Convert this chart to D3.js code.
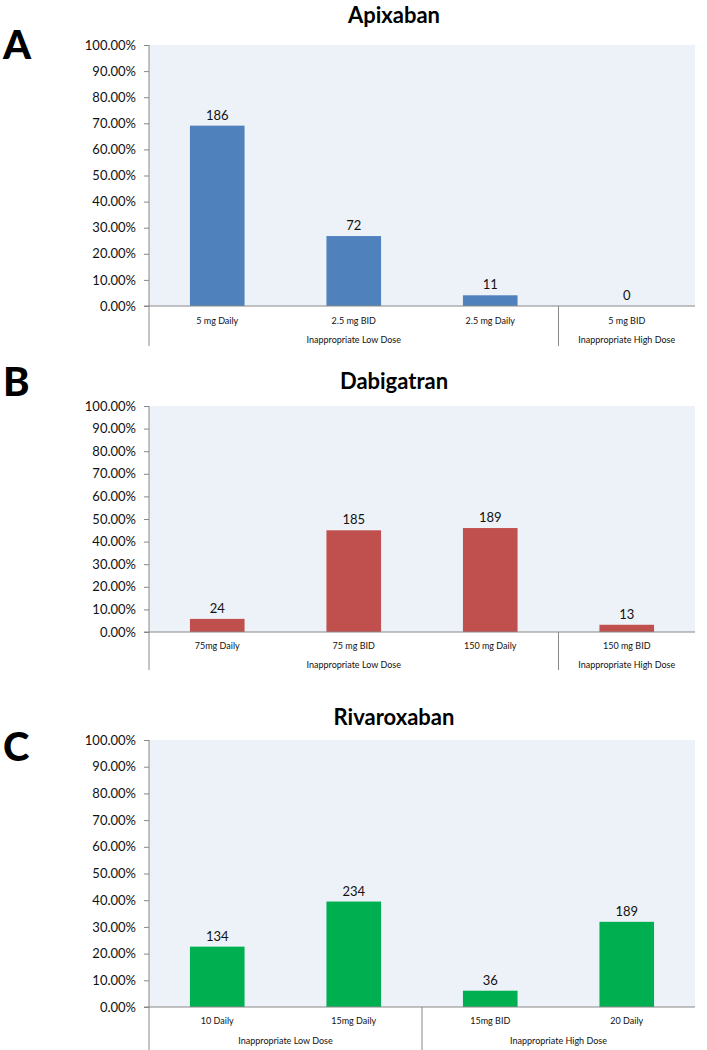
<!DOCTYPE html>
<html><head><meta charset="utf-8">
<script src="https://cdn.jsdelivr.net/npm/d3@7"></script>
<style>body{margin:0;background:#fff}svg{display:block}</style>
</head><body>
<svg id="c" width="707" height="1050"></svg>
<script>
const yTicks = [0,10,20,30,40,50,60,70,80,90,100];

const apixCats = ["5 mg Daily","2.5 mg BID","2.5 mg Daily","5 mg BID"];
const apixGroups = ["Inappropriate Low Dose","Inappropriate Low Dose","Inappropriate Low Dose","Inappropriate High Dose"];
const apixPct = [69.1, 26.8, 4.1, 0];
const apixN = [186, 72, 11, 0];

const dabiCats = ["75mg Daily","75 mg BID","150 mg Daily","150 mg BID"];
const dabiGroups = ["Inappropriate Low Dose","Inappropriate Low Dose","Inappropriate Low Dose","Inappropriate High Dose"];
const dabiPct = [5.8, 45.0, 46.0, 3.2];
const dabiN = [24, 185, 189, 13];

const rivaCats = ["10 Daily","15mg Daily","15mg BID","20 Daily"];
const rivaGroups = ["Inappropriate Low Dose","Inappropriate Low Dose","Inappropriate High Dose","Inappropriate High Dose"];
const rivaPct = [22.6, 39.5, 6.1, 31.9];
const rivaN = [134, 234, 36, 189];

const svg = d3.select("#c");
const FONT = "Lato, 'Open Sans', sans-serif";

function panel(o){
  const L = 149, R = 695;
  const g = svg.append("g");
  const x = d3.scaleBand().domain(d3.range(o.cats.length)).range([L,R]).paddingInner(0.6).paddingOuter(0.3);
  const xb = d3.scaleBand().domain(d3.range(o.cats.length)).range([L,R]);
  const y = d3.scaleLinear().domain([0,100]).range([o.bottom,o.top]);

  g.append("rect").attr("x",L).attr("y",o.top).attr("width",R-L).attr("height",o.bottom-o.top).attr("fill","#EDF1F8");

  // title & letter
  g.append("text").attr("x",394).attr("y",o.titleY).attr("text-anchor","middle").attr("dominant-baseline","central")
    .attr("font-family",FONT).attr("font-weight","bold").attr("font-size",22).text(o.title);
  g.append("text").attr("x",3).attr("y",o.letterY).attr("dominant-baseline","central")
    .attr("font-family",FONT).attr("font-weight","900").attr("font-size",40).text(o.letter);

  // bars
  g.selectAll(".bar").data(o.pct).join("rect")
    .attr("x",(d,i)=>x(i)).attr("width",x.bandwidth())
    .attr("y",d=>y(d)).attr("height",d=>o.bottom-y(d)).attr("fill",o.color);

  g.selectAll(".lbl").data(o.n).join("text")
    .attr("x",(d,i)=>x(i)+x.bandwidth()/2).attr("y",(d,i)=>y(o.pct[i])-6)
    .attr("text-anchor","middle").attr("font-family",FONT).attr("font-size",13).attr("fill","#111").text(d=>d);

  // y axis
  const ya = d3.axisLeft(y).tickValues(yTicks).tickSize(5).tickPadding(8).tickFormat(d=>d.toFixed(2)+"%");
  const ag = g.append("g").attr("transform",`translate(${L},0)`).call(ya);
  ag.select(".domain").remove();
  ag.selectAll("line").attr("stroke","#888");
  ag.selectAll("text").attr("font-family",FONT).attr("font-size",13).attr("fill","#111");

  // axis lines
  g.append("line").attr("x1",L).attr("x2",L).attr("y1",o.top).attr("y2",o.lineBottom).attr("stroke","#888");
  g.append("line").attr("x1",L-5).attr("x2",R).attr("y1",o.bottom).attr("y2",o.bottom).attr("stroke","#888");

  // category labels
  g.selectAll(".cat").data(o.cats).join("text")
    .attr("x",(d,i)=>xb(i)+xb.bandwidth()/2).attr("y",o.catY).attr("text-anchor","middle").attr("dominant-baseline","central")
    .attr("font-family",FONT).attr("font-size",9).attr("fill","#111").text(d=>d);

  // groups
  const groups = [];
  o.groups.forEach((gname,i)=>{
    if(!groups.length || groups[groups.length-1].name!==gname) groups.push({name:gname,start:i,end:i});
    else groups[groups.length-1].end=i;
  });
  groups.forEach((gr,k)=>{
    const x0 = xb(gr.start), x1 = xb(gr.end)+xb.bandwidth();
    g.append("text").attr("x",(x0+x1)/2).attr("y",o.groupY).attr("text-anchor","middle").attr("dominant-baseline","central")
      .attr("font-family",FONT).attr("font-size",9).attr("fill","#111").text(gr.name);
    if(k>0) g.append("line").attr("x1",x0).attr("x2",x0).attr("y1",o.bottom).attr("y2",o.lineBottom).attr("stroke","#888");
  });
}

panel({title:"Apixaban",letter:"A",cats:apixCats,groups:apixGroups,pct:apixPct,n:apixN,color:"#4F81BD",
  top:45,bottom:306,titleY:14,letterY:44,catY:320,groupY:339,lineBottom:346});
panel({title:"Dabigatran",letter:"B",cats:dabiCats,groups:dabiGroups,pct:dabiPct,n:dabiN,color:"#C0504D",
  top:406,bottom:632,titleY:380,letterY:381,catY:645,groupY:664,lineBottom:670});
panel({title:"Rivaroxaban",letter:"C",cats:rivaCats,groups:rivaGroups,pct:rivaPct,n:rivaN,color:"#00B050",
  top:740,bottom:1007,titleY:716,letterY:746,catY:1020,groupY:1040,lineBottom:1050});
</script>
</body></html>
